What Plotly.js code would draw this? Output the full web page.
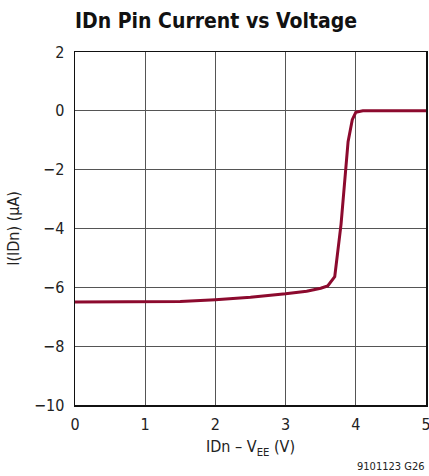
<!DOCTYPE html>
<html><head><meta charset="utf-8">
<script src="https://cdn.plot.ly/plotly-3.0.1.min.js"></script>
<style>html,body{margin:0;padding:0;background:#fff}#chart{width:429px;height:476px}</style>
</head><body><div id="chart"></div>
<script>
const voltage = [0, 0.5, 1.0, 1.5, 2.0, 2.5, 3.0, 3.3, 3.5, 3.6, 3.7, 3.79, 3.89, 3.95, 4.0, 4.1, 4.5, 5.0];
const currentUA = [-6.5, -6.5, -6.5, -6.48, -6.42, -6.34, -6.22, -6.13, -6.03, -5.95, -5.64, -3.85, -1.05, -0.3, -0.05, 0.0, 0.0, 0.0];
const xTicks = [0, 1, 2, 3, 4, 5];
const yTicks = [2, 0, -2, -4, -6, -8, -10];
const yTickText = ['2', '0', '\u22122', '\u22124', '\u22126', '\u22128', '\u221210'];

const font = "'DejaVu Sans Condensed', 'Liberation Sans Narrow', 'Liberation Sans', sans-serif";
Plotly.newPlot('chart', [{
  x: voltage, y: currentUA, type: 'scatter', mode: 'lines',
  line: {color: '#8C0A2E', width: 3}, hoverinfo: 'skip'
}], {
  width: 429, height: 476,
  margin: {l: 75, r: 3, t: 52, b: 71},
  paper_bgcolor: '#fff', plot_bgcolor: '#fff',
  showlegend: false,
  font: {family: font, color: '#222', size: 16},
  title: {text: '<b>IDn Pin Current vs Voltage</b>', x: 0, xref: 'paper', xanchor: 'left', y: 0.957, yanchor: 'middle',
          font: {family: font, size: 21, color: '#111'}},
  xaxis: {range: [0, 5], tickvals: xTicks, ticktext: xTicks.map(String), ticks: '', showgrid: true,
          ticklabeloverflow: 'allow', ticklabelstandoff: 4,
          gridcolor: '#555', gridwidth: 1, zeroline: false, showline: true, linecolor: '#111', linewidth: 1.5, mirror: true,
          tickfont: {family: font, size: 16, color: '#222'},
          title: {text: 'IDn \u2013 V<sub>EE</sub> (V)', font: {family: font, size: 16, color: '#222'}, standoff: 8}},
  yaxis: {range: [-10, 2], tickvals: yTicks, ticktext: yTickText, ticks: '', showgrid: true,
          ticklabeloverflow: 'allow', ticklabelstandoff: 6,
          gridcolor: '#555', gridwidth: 1, zeroline: false, showline: true, linecolor: '#111', linewidth: 1.5, mirror: true,
          tickfont: {family: font, size: 16, color: '#222'},
          title: {text: 'I(IDn) (\u03bcA)', font: {family: font, size: 16, color: '#222'}, standoff: 10}},
  annotations: [{text: '9101123 G26', xref: 'paper', yref: 'paper', x: 1, y: -0.175, xanchor: 'right', yanchor: 'middle',
                 showarrow: false, font: {family: font, size: 11, color: '#222'}}]
}, {staticPlot: true, displayModeBar: false});
</script></body></html>
